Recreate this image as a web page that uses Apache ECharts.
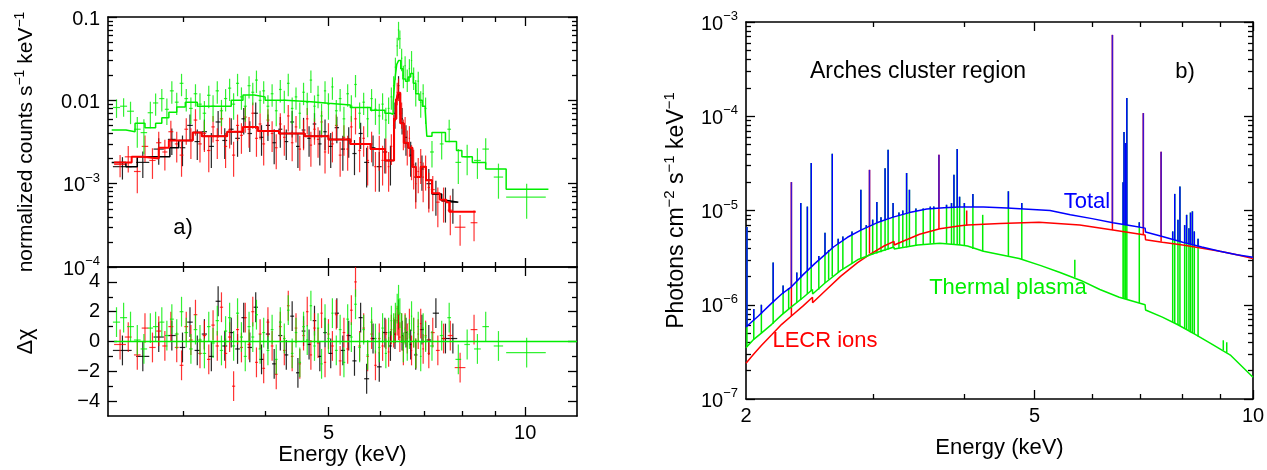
<!DOCTYPE html>
<html><head><meta charset="utf-8">
<script src="https://cdn.jsdelivr.net/npm/echarts@6/dist/echarts.min.js"></script>
<style>html,body{margin:0;padding:0;background:#fff}#c{width:1267px;height:470px}</style>
</head><body><div id="c"></div>
<script>
// ---------------- Panel a) : spectra, [E keV, value, halfWidth keV, fractional error, residual]
const greenPts = [
[2.37,0.0082,0.03,0.25,1.3],[2.43,0.0085,0.03,0.25,1.6],[2.49,0.0074,0.03,0.3,1.0],[2.55,0.0045,0.03,0.4,0.1],
[2.61,0.0041,0.03,0.45,-0.5],[2.67,0.0071,0.025,0.35,0.9],[2.72,0.0093,0.025,0.3,1.0],[2.78,0.0105,0.025,0.3,1.3],
[2.83,0.0078,0.02,0.35,0.4],[2.88,0.0130,0.02,0.3,1.5],[2.93,0.0095,0.02,0.3,0.5],[2.98,0.0160,0.02,0.3,2.0],
[3.03,0.0105,0.02,0.3,0.6],[3.08,0.0080,0.02,0.35,-0.5],[3.13,0.0120,0.02,0.3,0.8],[3.18,0.0090,0.02,0.35,0.1],
[3.23,0.0070,0.02,0.4,-0.8],[3.28,0.0115,0.02,0.3,1.0],[3.33,0.0085,0.02,0.35,-0.1],[3.38,0.0130,0.02,0.3,1.4],
[3.43,0.0075,0.02,0.35,-0.6],[3.48,0.0105,0.02,0.3,0.7],[3.53,0.0140,0.02,0.3,1.6],[3.58,0.0090,0.02,0.35,-0.3],
[3.63,0.0160,0.02,0.3,1.9],[3.68,0.0110,0.02,0.3,0.3],[3.73,0.0085,0.02,0.35,-1.0],[3.78,0.0150,0.02,0.3,1.0],
[3.83,0.0125,0.02,0.3,0.3],[3.88,0.0175,0.02,0.3,1.8],[3.93,0.0100,0.02,0.3,-0.5],[3.98,0.0130,0.02,0.3,0.6],
[4.04,0.0085,0.02,0.35,-0.6],[4.10,0.0120,0.02,0.3,0.8],[4.16,0.0075,0.02,0.35,-1.2],[4.22,0.0135,0.02,0.3,1.3],
[4.28,0.0100,0.02,0.3,0.2],[4.34,0.0160,0.02,0.3,2.1],[4.40,0.0080,0.02,0.35,-0.8],[4.46,0.0110,0.02,0.3,0.6],
[4.52,0.0070,0.02,0.35,-1.4],[4.58,0.0125,0.02,0.3,1.0],[4.64,0.0095,0.02,0.3,0.1],[4.70,0.0175,0.02,0.3,2.4],
[4.76,0.0085,0.02,0.35,-0.3],[4.82,0.0115,0.02,0.3,0.9],[4.88,0.0065,0.02,0.4,-1.5],[4.94,0.0130,0.02,0.3,1.5],
[5.00,0.0090,0.02,0.35,0.2],[5.07,0.0145,0.02,0.3,1.9],[5.14,0.0075,0.025,0.35,-0.6],[5.21,0.0105,0.025,0.3,0.8],
[5.28,0.0060,0.025,0.4,-1.4],[5.35,0.0120,0.025,0.3,1.5],[5.42,0.0085,0.025,0.35,0.3],[5.50,0.0155,0.025,0.3,2.5],
[5.58,0.0070,0.025,0.35,-0.4],[5.66,0.0095,0.025,0.3,0.8],[5.74,0.0060,0.025,0.4,-0.9],[5.82,0.0105,0.025,0.3,1.3],
[5.90,0.0078,0.025,0.35,0.2],[5.98,0.0065,0.025,0.4,-0.4],[6.05,0.0090,0.025,0.35,0.9],[6.12,0.0058,0.025,0.4,-0.8],
[6.18,0.0080,0.02,0.35,0.6],[6.24,0.0110,0.02,0.3,1.4],[6.29,0.0150,0.015,0.3,0.9],[6.33,0.0250,0.015,0.3,1.6],
[6.37,0.0450,0.015,0.25,2.2],[6.40,0.0700,0.015,0.25,2.8],[6.43,0.0550,0.015,0.25,1.9],[6.47,0.0320,0.015,0.3,0.9],
[6.51,0.0200,0.015,0.3,-0.4],[6.55,0.0260,0.015,0.3,0.8],[6.60,0.0180,0.015,0.3,-0.3],[6.65,0.0240,0.015,0.3,0.5],
[6.70,0.0300,0.015,0.3,1.7],[6.75,0.0190,0.015,0.3,0.6],[6.80,0.0130,0.02,0.35,-0.8],[6.86,0.0170,0.02,0.3,1.0],
[6.92,0.0095,0.02,0.35,-1.0],[6.98,0.0120,0.02,0.3,0.9],[7.04,0.0080,0.025,0.35,0.3],[7.20,0.0024,0.05,0.35,-0.3],
[7.45,0.0030,0.05,0.35,0.4],[7.65,0.0045,0.05,0.3,1.6],[7.90,0.0018,0.08,0.45,-1.2],[8.15,0.0021,0.08,0.4,-0.2],
[8.45,0.0019,0.1,0.4,-0.5],[8.70,0.0026,0.1,0.35,1.0],[9.10,0.0012,0.15,0.45,-0.3],[10.05,0.00069,0.7,0.45,-0.75]
];
const redPts = [
[2.40,0.0017,0.05,0.3,-0.2],[2.47,0.0021,0.03,0.35,0.3],[2.55,0.0014,0.03,0.45,-0.9],[2.62,0.0028,0.03,0.35,0.9],
[2.69,0.0019,0.03,0.4,-0.4],[2.75,0.0031,0.025,0.35,0.7],[2.81,0.0024,0.025,0.4,-0.3],[2.87,0.0042,0.025,0.35,1.0],
[2.93,0.0030,0.02,0.4,-0.4],[2.98,0.0022,0.02,0.45,-1.6],[3.03,0.0045,0.02,0.35,1.0],[3.08,0.0033,0.02,0.4,0.1],
[3.13,0.0058,0.02,0.35,1.8],[3.18,0.0030,0.02,0.4,-0.8],[3.23,0.0040,0.02,0.4,0.4],[3.28,0.0025,0.02,0.45,-1.2],
[3.33,0.0048,0.02,0.35,1.1],[3.38,0.0033,0.02,0.4,-0.3],[3.43,0.0060,0.02,0.35,2.3],[3.48,0.0028,0.02,0.45,-0.8],
[3.53,0.0044,0.02,0.4,0.3],[3.58,0.0022,0.02,0.45,-3.0],[3.63,0.0050,0.02,0.35,0.8],[3.68,0.0038,0.02,0.4,-0.4],
[3.73,0.0063,0.02,0.35,1.6],[3.78,0.0045,0.02,0.4,-0.2],[3.83,0.0070,0.02,0.35,2.0],[3.88,0.0035,0.02,0.4,-1.4],
[3.93,0.0052,0.02,0.35,0.5],[3.98,0.0030,0.02,0.45,-1.8],[4.04,0.0058,0.02,0.35,1.3],[4.10,0.0040,0.02,0.4,-0.3],
[4.16,0.0027,0.02,0.45,-2.2],[4.22,0.0052,0.02,0.35,1.0],[4.28,0.0036,0.02,0.4,-0.6],[4.34,0.0065,0.02,0.35,2.4],
[4.40,0.0031,0.02,0.4,-1.0],[4.46,0.0048,0.02,0.35,0.9],[4.52,0.0026,0.02,0.45,-1.5],[4.58,0.0042,0.02,0.4,0.4],
[4.64,0.0060,0.02,0.35,2.0],[4.70,0.0029,0.02,0.45,-0.9],[4.76,0.0045,0.02,0.35,0.9],[4.82,0.0034,0.02,0.4,-0.1],
[4.88,0.0055,0.02,0.35,1.9],[4.94,0.0024,0.02,0.45,-1.4],[5.00,0.0038,0.02,0.4,0.5],[5.07,0.0030,0.025,0.4,-0.3],
[5.14,0.0050,0.025,0.35,1.8],[5.21,0.0022,0.025,0.45,-1.3],[5.28,0.0036,0.025,0.4,0.6],[5.35,0.0026,0.025,0.45,-0.5],
[5.42,0.0048,0.025,0.35,2.1],[5.50,0.0060,0.025,0.35,4.0],[5.58,0.0025,0.025,0.45,-0.3],[5.66,0.0035,0.025,0.4,0.9],
[5.74,0.0019,0.025,0.5,-1.0],[5.82,0.0030,0.025,0.4,0.5],[5.90,0.0016,0.025,0.5,-1.6],[5.98,0.0026,0.025,0.45,0.2],
[6.05,0.0019,0.025,0.5,-0.3],[6.12,0.0024,0.025,0.45,0.5],[6.18,0.0016,0.02,0.5,-0.7],[6.24,0.0028,0.02,0.4,0.8],
[6.29,0.0050,0.015,0.35,0.6],[6.33,0.0080,0.015,0.3,0.9],[6.37,0.0125,0.015,0.3,1.4],[6.40,0.0140,0.015,0.3,1.1],
[6.43,0.0095,0.015,0.3,0.3],[6.47,0.0070,0.015,0.35,0.9],[6.51,0.0042,0.015,0.4,-0.6],[6.55,0.0045,0.015,0.4,0.9],
[6.60,0.0030,0.015,0.45,0.2],[6.65,0.0035,0.015,0.4,1.2],[6.70,0.0020,0.015,0.45,-0.6],[6.75,0.0017,0.015,0.5,0.6],
[6.80,0.0010,0.02,0.5,-0.8],[6.86,0.0014,0.02,0.45,0.5],[6.92,0.0018,0.02,0.45,1.2],[6.98,0.0012,0.02,0.5,-0.5],
[7.04,0.0015,0.025,0.45,0.4],[7.12,0.0009,0.03,0.5,-0.8],[7.22,0.00085,0.05,0.45,0.6],[7.35,0.00060,0.05,0.5,-0.6],
[7.50,0.00062,0.06,0.45,0.2],[7.68,0.00048,0.07,0.5,0.4],[7.95,0.00030,0.15,0.4,-1.75],[8.35,0.00034,0.1,0.4,0.8]
];
const blackPts = [
[2.42,0.0016,0.08,0.3,-0.6],[2.60,0.0018,0.06,0.35,-1.0],[2.75,0.0026,0.05,0.35,0.3],[2.88,0.0034,0.04,0.35,0.4],
[2.99,0.0027,0.03,0.4,-0.4],[3.07,0.0050,0.03,0.35,1.3],[3.15,0.0032,0.03,0.4,-0.6],[3.23,0.0042,0.03,0.4,0.5],
[3.31,0.0028,0.03,0.45,-1.0],[3.39,0.0055,0.03,0.35,2.7],[3.47,0.0033,0.03,0.4,-0.3],[3.55,0.0045,0.03,0.35,0.6],
[3.63,0.0035,0.03,0.4,-0.5],[3.71,0.0060,0.03,0.35,1.6],[3.79,0.0040,0.03,0.4,-0.4],[3.87,0.0070,0.03,0.35,2.3],
[3.95,0.0036,0.03,0.4,-1.2],[4.04,0.0050,0.03,0.35,0.5],[4.13,0.0031,0.03,0.45,-1.5],[4.22,0.0045,0.03,0.4,0.4],
[4.31,0.0032,0.03,0.4,-0.9],[4.40,0.0055,0.03,0.35,1.7],[4.49,0.0028,0.03,0.45,-2.1],[4.58,0.0044,0.03,0.4,0.7],
[4.67,0.0035,0.03,0.4,-0.2],[4.76,0.0052,0.03,0.35,1.4],[4.85,0.0030,0.03,0.45,-1.0],[4.94,0.0042,0.03,0.4,0.6],
[5.04,0.0028,0.04,0.45,-0.8],[5.15,0.0047,0.04,0.35,1.9],[5.26,0.0026,0.04,0.45,-0.6],[5.37,0.0034,0.04,0.4,0.4],
[5.48,0.0023,0.04,0.45,-1.3],[5.60,0.0040,0.04,0.35,1.6],[5.72,0.0018,0.05,0.5,-2.5],[5.85,0.0027,0.05,0.4,0.2],
[5.98,0.0016,0.05,0.5,-1.7],[6.10,0.0024,0.05,0.45,0.6],[6.22,0.0019,0.03,0.5,-0.3],[6.32,0.0070,0.02,0.35,0.5],
[6.40,0.0150,0.02,0.3,1.8],[6.48,0.0060,0.02,0.35,0.4],[6.57,0.0036,0.03,0.4,0.6],[6.68,0.0022,0.03,0.45,-0.2],
[6.80,0.0012,0.04,0.5,-0.9],[6.95,0.0015,0.05,0.45,0.8],[7.12,0.0010,0.06,0.5,0.1],[7.30,0.00075,0.08,0.45,1.9],
[7.55,0.00062,0.1,0.45,0.2],[7.75,0.00060,0.12,0.45,0.2]
];
// model step curves [bin start keV, value]
const greenModel = [[2.33,0.0044],[2.45,0.0042],[2.53,0.0053],[2.62,0.0047],[2.72,0.0053],[2.78,0.0062],[2.85,0.0072],
[2.93,0.0083],[3.02,0.0095],[3.15,0.0085],[3.40,0.0085],[3.55,0.0100],[3.70,0.0116],[3.85,0.0110],[4.00,0.0100],
[4.30,0.0096],[4.70,0.0092],[5.00,0.0088],[5.40,0.0082],[5.80,0.0076],[6.10,0.0070],[6.22,0.0068],[6.28,0.0095],
[6.32,0.018],[6.36,0.027],[6.40,0.030],[6.45,0.024],[6.50,0.018],[6.56,0.017],[6.62,0.019],[6.68,0.021],[6.74,0.016],
[6.80,0.012],[6.88,0.010],[6.96,0.0085],[7.03,0.0075],[7.07,0.0037],[7.20,0.0041],[7.55,0.0032],[7.85,0.0025],
[8.00,0.0021],[8.30,0.0018],[8.70,0.0015],[9.35,0.00086],[10.85,0.00086]];
const redModel = [[2.35,0.0018],[2.50,0.0021],[2.60,0.0020],[2.75,0.0027],[2.85,0.0033],[3.10,0.0041],[3.20,0.0037],
[3.50,0.0042],[3.70,0.0048],[3.90,0.0043],[4.20,0.0040],[4.60,0.0037],[5.00,0.0034],[5.40,0.0030],[5.80,0.0026],
[6.10,0.0019],[6.25,0.0019],[6.30,0.0060],[6.35,0.0101],[6.39,0.0123],[6.44,0.0053],[6.52,0.0031],[6.62,0.0027],
[6.72,0.0016],[6.80,0.0012],[6.92,0.0016],[7.05,0.0011],[7.20,0.00077],[7.40,0.00064],[7.57,0.00060],[7.65,0.00046],[8.40,0.00046]];
const blackModel = [[2.33,0.0018],[2.45,0.0016],[2.55,0.0021],[2.86,0.0027],[2.95,0.0033],[3.10,0.0041],[3.20,0.0037],
[3.50,0.0042],[3.70,0.0048],[3.90,0.0043],[4.20,0.0040],[4.60,0.0037],[5.00,0.0034],[5.40,0.0030],[5.80,0.0026],
[6.10,0.0019],[6.25,0.0019],[6.30,0.0060],[6.35,0.0100],[6.39,0.0120],[6.44,0.0053],[6.52,0.0031],[6.62,0.0027],
[6.72,0.0016],[6.80,0.0012],[6.92,0.0016],[7.05,0.0011],[7.20,0.00075],[7.45,0.00063],[7.60,0.00060],[7.90,0.00060]];
const residZero = [[2.35,0],[12,0]];

// ---------------- Panel b) : model components, [E keV, photons cm-2 s-1 keV-1]
const totalCont = [[2.00,5.8e-7],[2.08,7.6e-7],[2.17,1.04e-6],[2.24,1.3e-6],[2.31,1.55e-6],[2.40,2.1e-6],[2.49,2.75e-6],
[2.57,3.4e-6],[2.64,4.1e-6],[2.76,5.2e-6],[2.88,6.2e-6],[3.03,7.4e-6],[3.19,8.5e-6],[3.36,9.5e-6],[3.55,1.04e-5],
[3.75,1.07e-5],[3.94,1.09e-5],[4.25,1.09e-5],[4.58,1.06e-5],[4.90,1.03e-5],[5.25,1.0e-5],[5.60,9.0e-6],[6.00,8.2e-6],
[6.41,7.4e-6],[6.80,6.9e-6],[7.10,6.5e-6],[7.11,5.9e-6],[7.50,5.3e-6],[8.00,4.6e-6],[8.50,4.1e-6],[9.00,3.7e-6],
[9.50,3.4e-6],[10.0,3.2e-6]];
const lecrCont = [[2.00,2.4e-7],[2.05,3.0e-7],[2.10,3.7e-7],[2.17,4.8e-7],[2.24,6.2e-7],[2.31,7.6e-7],[2.40,9.8e-7],
[2.47,1.2e-6],[2.471,1.05e-6],[2.57,1.4e-6],[2.70,2.0e-6],[2.85,2.8e-6],[2.96,3.4e-6],[3.10,4.2e-6],[3.20,4.7e-6],
[3.201,4.3e-6],[3.47,5.6e-6],[3.70,6.4e-6],[3.95,6.9e-6],[4.04,7.0e-6],[4.48,7.3e-6],[5.07,7.5e-6],[5.77,7.0e-6],
[6.41,6.2e-6],[7.10,5.5e-6],[7.11,4.9e-6],[7.50,4.6e-6],[8.00,4.3e-6],[8.47,4.0e-6],[9.00,3.7e-6],[9.50,3.4e-6],[10.0,3.1e-6]];
const thermalCont = [[2.00,3.5e-7],[2.05,4.3e-7],[2.10,5.0e-7],[2.17,6.2e-7],[2.24,7.8e-7],[2.31,9.5e-7],[2.40,1.2e-6],
[2.47,1.45e-6],[2.471,1.3e-6],[2.57,1.7e-6],[2.70,2.3e-6],[2.85,3.0e-6],[3.00,3.5e-6],[3.20,4.1e-6],[3.201,3.9e-6],
[3.45,4.3e-6],[3.70,4.5e-6],[3.95,4.3e-6],[4.04,4.2e-6],[4.041,4.0e-6],[4.25,3.7e-6],[4.76,3.1e-6],[5.10,2.6e-6],
[5.42,2.2e-6],[5.80,1.8e-6],[6.15,1.45e-6],[6.54,1.2e-6],[7.10,1.0e-6],[7.11,8.8e-7],[7.50,7.4e-7],[7.89,6.1e-7],
[8.30,4.9e-7],[8.74,3.9e-7],[9.32,2.9e-7],[10.0,1.7e-7]];
// emission lines [E keV, thermal base, total base, peak]
const thermalLines = [[2.006,3.6e-7,5.9e-7,6.7e-6],[2.05,4.3e-7,6.8e-7,9e-7],[2.10,5.0e-7,8.0e-7,1.0e-6],
[2.18,6.3e-7,1.05e-6,2.8e-6],[2.25,8.0e-7,1.3e-6,1.6e-6],[2.29,9.0e-7,1.45e-6,1.5e-6],[2.35,1.05e-6,1.8e-6,2.2e-6],
[2.38,1.12e-6,1.95e-6,1.2e-5],[2.43,1.3e-6,2.3e-6,1.1e-5],[2.46,1.4e-6,2.55e-6,3.2e-5],[2.52,1.45e-6,3.0e-6,3.3e-6],
[2.57,1.7e-6,3.4e-6,5.8e-6],[2.60,1.85e-6,3.7e-6,3.8e-6],[2.63,2.0e-6,4.0e-6,4.0e-5],[2.68,2.2e-6,4.4e-6,5.0e-6],
[2.72,2.4e-6,4.8e-6,5.3e-6],[2.80,2.75e-6,5.5e-6,6.0e-6],[2.88,3.05e-6,6.2e-6,1.66e-5],[2.93,3.2e-6,6.6e-6,7.0e-6],
[2.99,3.4e-6,7.1e-6,8.0e-6],[3.03,3.5e-6,7.4e-6,1.23e-5],[3.07,3.6e-6,7.7e-6,8.5e-6],[3.11,3.75e-6,8.0e-6,2.8e-5],
[3.14,3.85e-6,8.2e-6,4.4e-5],[3.19,4.05e-6,8.5e-6,1.2e-5],[3.25,3.95e-6,8.9e-6,9.5e-6],[3.29,4.0e-6,9.1e-6,1.0e-5],
[3.33,4.05e-6,9.3e-6,2.5e-5],[3.36,4.1e-6,9.5e-6,1.66e-5],[3.43,4.25e-6,9.8e-6,1.05e-5],[3.51,4.35e-6,1.02e-5,1.05e-5],
[3.59,4.45e-6,1.05e-5,1.1e-5],[3.63,4.5e-6,1.06e-5,1.1e-5],[3.78,4.45e-6,1.08e-5,1.15e-5],[3.84,4.4e-6,1.09e-5,1.2e-5],
[3.87,4.4e-6,1.09e-5,2.4e-5],[3.91,4.35e-6,1.09e-5,4.5e-5],[3.94,4.3e-6,1.09e-5,1.4e-5],[4.00,4.25e-6,1.09e-5,1.2e-5],
[4.11,3.9e-6,1.09e-5,1.5e-5],[4.24,3.7e-6,1.09e-5,9.0e-6],[4.60,3.3e-6,1.06e-5,1.6e-5],[4.80,3.05e-6,1.04e-5,1.2e-5],
[5.68,1.95e-6,8.9e-6,3.0e-6],[6.62,1.18e-6,7.1e-6,2.0e-5],[6.64,1.17e-6,7.1e-6,6.8e-5],[6.67,1.15e-6,7.0e-6,5.2e-5],
[6.70,1.14e-6,7.0e-6,1.56e-4],[6.97,1.04e-6,6.7e-6,7.5e-6],[7.75,6.5e-7,4.9e-6,6e-6],[7.80,6.4e-7,4.85e-6,1.5e-5],
[7.88,6.1e-7,4.75e-6,8e-6],[7.93,6.0e-7,4.7e-6,1.8e-5],[8.05,5.6e-7,4.6e-6,7e-6],[8.10,5.5e-7,4.5e-6,9e-6],
[8.16,5.3e-7,4.45e-6,6.5e-6],[8.20,5.1e-7,4.4e-6,9.5e-6],[8.25,5.0e-7,4.35e-6,9.8e-6],[8.30,4.9e-7,4.3e-6,6e-6],
[8.40,4.6e-7,4.2e-6,5e-6],[9.10,3.3e-7,3.6e-6,4.2e-7],[9.20,3.1e-7,3.55e-6,4.0e-7]];
const lecrLines = [[2.31,7.6e-7,1.55e-6,2.0e-5],[2.96,3.5e-6,6.8e-6,2.7e-5],[3.69,6.4e-6,1.07e-5,3.9e-5],
[4.03,6.9e-6,1.09e-5,1.0e-5],[6.40,6.2e-6,7.4e-6,7.3e-4],[7.06,5.6e-6,6.6e-6,1.08e-4],[7.47,4.7e-6,5.4e-6,4.2e-5]];

// ---------------- ticks
const aXMajor = [5,10], aXMinor = [3,4,6,7,8,9], aXLabels = [5,10];
const aYMajor = [1e-4,1e-3,1e-2,1e-1];
const rYMajor = [-4,-2,0,2,4], rYMinor = [-3,-1,1,3];
const bXMajor = [5,10], bXMinor = [3,4,6,7,8,9], bXLabels = [2,5,10];
const bYMajor = [1e-7,1e-6,1e-5,1e-4,1e-3];
const mults = [2,3,4,5,6,7,8,9];

const FONT = '"Liberation Sans", Arial, Helvetica, sans-serif';
const L = Math.log10;
const C = {black:'#000000', red:'#ff0000', green:'#00ee00', blue:'#0000ff'};
const minorOf = decs => decs.slice(0,-1).flatMap(d => mults.map(m => L(m*d)));

const rich = {
  b:{fontSize:20, fontFamily:FONT, color:'#000', lineHeight:24, verticalAlign:'bottom'},
  s:{fontSize:13, fontFamily:FONT, color:'#000', lineHeight:13, verticalAlign:'top'}
};
const powLabel = v => { const e = Math.round(v); if (e === -1) return '{b|0.1}'; if (e === -2) return '{b|0.01}'; return '{b|10}{s|\u2212' + (-e) + '}'; };
const powLabelB = v => '{b|10}{s|\u2212' + (-Math.round(v)) + '}';

const grids = [
  {left:108, top:17, width:469, height:250},
  {left:108, top:17, width:469, height:250},
  {left:108, top:267, width:469, height:149},
  {left:108, top:267, width:469, height:149},
  {left:746, top:22, width:507, height:377},
  {left:746, top:22, width:507, height:377}
].map(g => Object.assign({outerBoundsMode:'none', containLabel:false}, g));

function ax(dim, grid, pos, min, max, ticks, len, showLine, extra) {
  return Object.assign({
    type:'value', gridIndex:grid, position:pos, min, max, scale:true,
    axisLine:{show:showLine, onZero:false, lineStyle:{color:'#000', width:1.6}},
    axisTick:{show:true, inside:true, length:len, customValues:ticks, lineStyle:{color:'#000', width:1.3}},
    axisLabel:{show:false},
    splitLine:{show:false}, minorTick:{show:false}, minorSplitLine:{show:false}
  }, extra || {});
}
const aX = [L(2.3), L(12)], bX = [L(2), 1];
const aXMaj = aXMajor.map(L), aXMin = aXMinor.map(L);
const bXMaj = bXMajor.map(L), bXMin = bXMinor.map(L);
const xLabelCfg = (vals) => ({show:true, customValues:vals.map(L), formatter: v => String(Math.round(Math.pow(10, v))),
  fontSize:20, fontFamily:FONT, color:'#000', margin:7, showMinLabel:true, showMaxLabel:true});
const nameStyle = (fs) => ({fontSize:fs, fontFamily:FONT, color:'#000', rich:{
  b:{fontSize:fs, fontFamily:FONT, color:'#000', lineHeight:fs+3, verticalAlign:'bottom'},
  s:{fontSize:Math.round(fs*0.65), fontFamily:FONT, color:'#000', lineHeight:Math.round(fs*0.65), verticalAlign:'top'}}});

const xAxis = [
  ax('x',0,'bottom',aX[0],aX[1],aXMaj,9,true),
  ax('x',0,'top',aX[0],aX[1],aXMaj,9,true),
  ax('x',1,'bottom',aX[0],aX[1],aXMin,5,false),
  ax('x',1,'top',aX[0],aX[1],aXMin,5,false),
  ax('x',2,'bottom',aX[0],aX[1],aXMaj,9,true,{axisLabel:xLabelCfg(aXLabels), name:'Energy (keV)', nameLocation:'middle', nameGap:28, nameTextStyle:nameStyle(22)}),
  ax('x',2,'top',aX[0],aX[1],aXMaj,9,true),
  ax('x',3,'bottom',aX[0],aX[1],aXMin,5,false),
  ax('x',3,'top',aX[0],aX[1],aXMin,5,false),
  ax('x',4,'bottom',bX[0],bX[1],bXMaj,9,true,{axisLabel:xLabelCfg(bXLabels), name:'Energy (keV)', nameLocation:'middle', nameGap:38, nameTextStyle:nameStyle(22)}),
  ax('x',4,'top',bX[0],bX[1],bXMaj,9,true),
  ax('x',5,'bottom',bX[0],bX[1],bXMin,5,false),
  ax('x',5,'top',bX[0],bX[1],bXMin,5,false)
];
const yLabelLog = (vals, fmt) => ({show:true, customValues:vals.map(L), formatter:fmt, rich, fontSize:20, fontFamily:FONT, color:'#000', margin:8, showMinLabel:true, showMaxLabel:true});
const yAxis = [
  ax('y',0,'left',-4,-1,aYMajor.map(L),9,true,{axisLabel:yLabelLog(aYMajor,powLabel), name:'{b|normalized counts s}{s|\u22121}{b| keV}{s|\u22121}', nameLocation:'middle', nameGap:71, nameTextStyle:nameStyle(21)}),
  ax('y',0,'right',-4,-1,aYMajor.map(L),9,true),
  ax('y',1,'left',-4,-1,minorOf(aYMajor),5,false),
  ax('y',1,'right',-4,-1,minorOf(aYMajor),5,false),
  ax('y',2,'left',-5,5,rYMajor,9,true,{axisLabel:{show:true, customValues:rYMajor, formatter:v => (v<0?'\u2212':'')+Math.abs(v), fontSize:20, fontFamily:FONT, color:'#000', margin:8}, name:'\u0394\u03c7', nameLocation:'middle', nameGap:71, nameTextStyle:{fontSize:22, fontFamily:FONT, color:'#000'}}),
  ax('y',2,'right',-5,5,rYMajor,9,true),
  ax('y',3,'left',-5,5,rYMinor,5,false),
  ax('y',3,'right',-5,5,rYMinor,5,false),
  ax('y',4,'left',-7,-3,bYMajor.map(L),9,true,{axisLabel:yLabelLog(bYMajor,powLabelB), name:'{b|Photons cm}{s|\u22122}{b| s}{s|\u22121}{b| keV}{s|\u22121}', nameLocation:'middle', nameGap:58, nameTextStyle:nameStyle(23)}),
  ax('y',4,'right',-7,-3,bYMajor.map(L),9,true),
  ax('y',5,'left',-7,-3,minorOf(bYMajor),5,false),
  ax('y',5,'right',-7,-3,minorOf(bYMajor),5,false)
];

function crossSeries(pts, color, idx, resid, opacity) {
  const data = pts.map(p => resid
    ? [L(p[0]-p[2]), L(p[0]+p[2]), L(p[0]), p[4], p[4]-1, p[4]+1]
    : [L(p[0]-p[2]), L(p[0]+p[2]), L(p[0]), L(p[1]), L(p[1]*(1-p[3])), L(p[1]*(1+p[3]))]);
  return {type:'custom', xAxisIndex:idx, yAxisIndex:idx, clip:true, data, encode:{x:2, y:3}, silent:true,
    renderItem(params, api) {
      const y = api.value(3), xc = api.value(2);
      const a = api.coord([api.value(0), y]), b = api.coord([api.value(1), y]);
      const c = api.coord([xc, api.value(4)]), d = api.coord([xc, api.value(5)]);
      const st = {stroke:color, lineWidth:1.2, opacity};
      return {type:'group', children:[
        {type:'line', shape:{x1:a[0], y1:a[1], x2:b[0], y2:b[1]}, style:st},
        {type:'line', shape:{x1:c[0], y1:c[1], x2:d[0], y2:d[1]}, style:st}]};
    }};
}
function stepSeries(model, color, idx, w) {
  return {type:'line', xAxisIndex:idx, yAxisIndex:idx, step:'end', showSymbol:false, symbol:'none', silent:true,
    data:model.map(p => [L(p[0]), L(p[1])]), lineStyle:{color, width:w}};
}
function curveSeries(cont, color, idx) {
  return {type:'line', xAxisIndex:idx, yAxisIndex:idx, showSymbol:false, symbol:'none', silent:true,
    data:cont.map(p => [L(p[0]), L(p[1])]), lineStyle:{color, width:1.5}};
}
function spikeSeries(lines, baseIdx, color, idx) {
  const data = lines.filter(p => p[3] > p[baseIdx]).map(p => [L(p[0]), L(p[baseIdx]), L(p[3])]);
  return {type:'custom', xAxisIndex:idx, yAxisIndex:idx, clip:true, data, encode:{x:0, y:2}, silent:true,
    renderItem(params, api) {
      const a = api.coord([api.value(0), api.value(1)]), b = api.coord([api.value(0), api.value(2)]);
      return {type:'line', shape:{x1:a[0], y1:a[1], x2:b[0], y2:b[1]}, style:{stroke:color, lineWidth:1.5}};
    }};
}

const series = [
  crossSeries(blackPts, C.black, 0, false, 0.85),
  crossSeries(redPts, C.red, 0, false, 0.8),
  crossSeries(greenPts, C.green, 0, false, 0.8),
  stepSeries(blackModel, C.black, 0, 1.5),
  stepSeries(redModel, C.red, 0, 2),
  stepSeries(greenModel, C.green, 0, 1.5),
  crossSeries(blackPts, C.black, 4, true, 0.85),
  crossSeries(redPts, C.red, 4, true, 0.8),
  crossSeries(greenPts, C.green, 4, true, 0.8),
  {type:'line', xAxisIndex:4, yAxisIndex:4, showSymbol:false, symbol:'none', silent:true,
    data:residZero.map(p => [L(p[0]), p[1]]), lineStyle:{color:C.green, width:1.5}},
  curveSeries(lecrCont, C.red, 8),
  spikeSeries(lecrLines, 1, C.red, 8),
  curveSeries(thermalCont, C.green, 8),
  spikeSeries(thermalLines, 1, C.green, 8),
  curveSeries(totalCont, C.blue, 8),
  spikeSeries(thermalLines, 2, C.blue, 8),
  spikeSeries(lecrLines, 2, '#4010d0', 8)
];

const txt = (x, y, text, fill, size) => ({type:'text', x, y, silent:true,
  style:{text, fill, fontSize:size, fontFamily:FONT, align:'center', verticalAlign:'middle', textAlign:'center', textVerticalAlign:'middle'}});
const graphic = [
  txt(183, 228, 'a)', '#000', 22),
  txt(1185, 72, 'b)', '#000', 22),
  txt(918, 72, 'Arches cluster region', '#000', 23),
  txt(1087, 202, 'Total', C.blue, 22),
  txt(1008, 288, 'Thermal plasma', C.green, 22),
  txt(825, 341, 'LECR ions', C.red, 22)
];

const chart = echarts.init(document.getElementById('c'), null, {renderer:'canvas', width:1267, height:470});
chart.setOption({animation:false, backgroundColor:'#fff', grid:grids, xAxis, yAxis, series, graphic});
</script></body></html>
